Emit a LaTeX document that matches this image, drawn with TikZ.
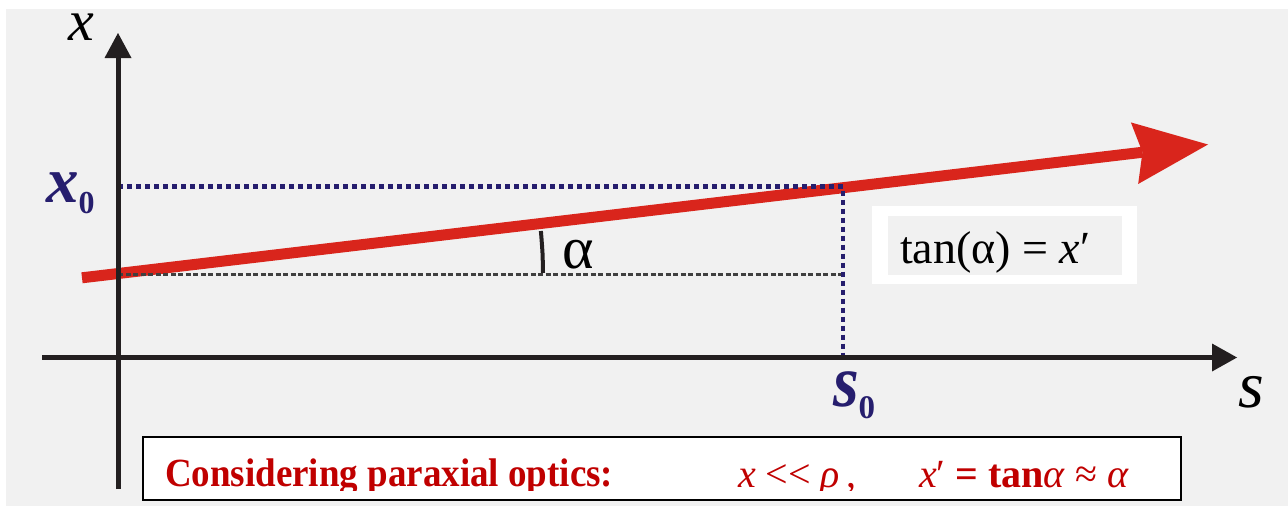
\documentclass[tikz,border=0pt]{standalone}
\usepackage{fontspec}
\setmainfont{Liberation Serif}
\usetikzlibrary{calc}
\definecolor{bgc}{RGB}{241,241,241}
\definecolor{rayred}{RGB}{217,37,28}
\definecolor{navy}{RGB}{38,30,110}
\definecolor{axisblack}{RGB}{35,31,32}
\definecolor{txtred}{RGB}{192,0,0}
\begin{document}
\begin{tikzpicture}[x=1pt,y=-1pt,
  axisline/.style={line width=5pt, draw=axisblack},
  dotline/.style={draw=navy, line width=4.5pt, dash pattern=on 5pt off 4pt},
  dashline/.style={draw=black!75, line width=2.5pt, dash pattern=on 5pt off 2.5pt},
  lbl/.style={inner sep=0pt, outer sep=0pt}
]
\useasboundingbox (0,0) rectangle (1288,506);
\fill[white] (0,0) rectangle (1288,506);
\fill[bgc] (6,9) rectangle (1288,506);
% coordinates
\coordinate (ytip) at (118,33);
\coordinate (ybase) at (118,58);
\coordinate (yend) at (118,489);
\coordinate (xtip) at (1237,357.5);
\coordinate (xbase) at (1212,357.5);
\coordinate (xend) at (42,357.5);
\coordinate (S) at (82,277.8);
\coordinate (T) at (1208,144.5);
\coordinate (P) at (843,186.5);
\coordinate (Px) at (118,186.5);
\coordinate (Ps) at (843,357);
\coordinate (I) at (118,274.5);
\coordinate (Id) at (843,274.5);
% red ray
\coordinate (N) at ($(T)!66pt!(S)$);
\coordinate (B) at ($(T)!74pt!(S)$);
\coordinate (C1) at ($(B)!31pt!90:(T)$);
\coordinate (C2) at ($(B)!31pt!-90:(T)$);
\draw[rayred, line width=11pt] (S) -- (N);
\fill[rayred] (T) -- (C1) -- (N) -- (C2) -- cycle;
% guide lines
\draw[dashline] (I) -- (Id);
\draw[dotline] (Px) -- (P) -- (Ps);
% angle
\draw[line width=4pt, axisblack] plot[smooth] coordinates {(540.9,231) (542.5,253) (543,273)};
\node[lbl, anchor=base west] (alpha) at (562,268) {\fontsize{60}{60}\selectfont α};
% axes
\draw[axisline] (yend) -- (ybase);
\fill[axisblack] (ytip) -- ($(ybase)+(-13.5,0)$) -- ($(ybase)+(13.5,0)$) -- cycle;
\draw[axisline] (xend) -- (xbase);
\fill[axisblack] (xtip) -- ($(xbase)+(0,-14)$) -- ($(xbase)+(0,14)$) -- cycle;
% labels
\node[lbl, anchor=base west] (xlab) at (68,40) {\fontsize{58}{58}\selectfont\itshape x};
\node[lbl, anchor=base west] (slab) at (1238,407) {\fontsize{66}{66}\selectfont\itshape s};
\node[lbl, anchor=base west, text=navy] (x0) at (46,202) {\fontsize{65}{65}\selectfont\bfseries\itshape x\raisebox{-11pt}{\fontsize{32}{32}\selectfont\upshape 0}};
\node[lbl, anchor=base west, text=navy] (s0) at (833,406) {\scalebox{1}[1.12]{\fontsize{66}{66}\selectfont\bfseries\itshape s}\raisebox{-12pt}{\fontsize{33}{33}\selectfont\bfseries 0}};
% tan box
\fill[white] (872,206) rectangle (1137,284);
\fill[bgc] (888,216) rectangle (1122,275);
\node[lbl, anchor=base west] (tan) at (900,263) {\fontsize{46}{46}\selectfont tan(α) = \textit{x}′};
% bottom box
\draw[line width=2pt, fill=white] (143,437) rectangle (1181,500);
\begin{scope}
\clip (143,437) rectangle (1181,490);
\node[lbl, anchor=base west, text=txtred] (consid) at (165,486) {\scalebox{1}[1.08]{\fontsize{37}{37}\selectfont\bfseries Considering paraxial optics:}};
\node[lbl, anchor=base west, text=txtred] (cond1) at (738,487) {\fontsize{40}{40}\selectfont\textit{x} <\kern0pt< \textit{ρ}\,,};
\node[lbl, anchor=base west, text=txtred] (cond2) at (919,487) {\fontsize{40}{40}\selectfont\textit{x}′ \textbf{= tan}\textit{α} ≈ \textit{α}};
\end{scope}
\end{tikzpicture}
\end{document}
